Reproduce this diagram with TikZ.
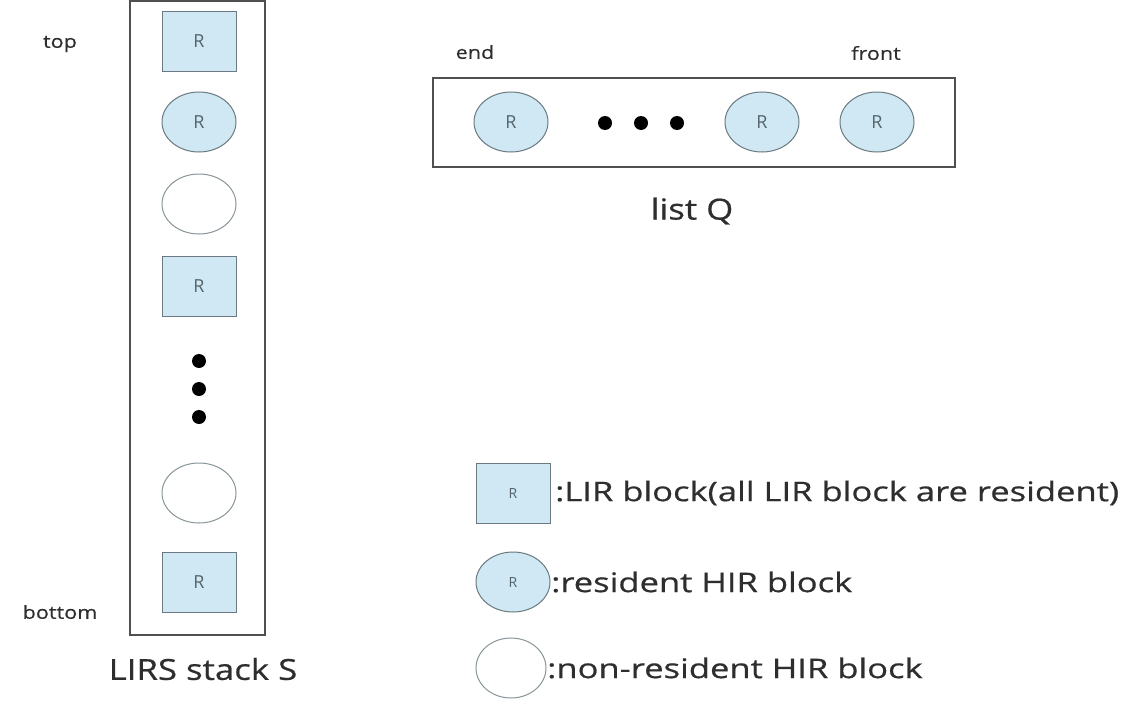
\documentclass[tikz,border=0pt]{standalone}
\usepackage{fontspec}
\setmainfont{Open Sans}
\newfontfamily\legendfont[FakeStretch=1.28,FakeBold=0.6]{Open Sans}
\newfontfamily\titlefont[FakeStretch=1.2,FakeBold=0.6]{Open Sans}
\newfontfamily\smallfont[FakeStretch=1.2,FakeBold=0.4]{Open Sans}
\usetikzlibrary{shapes.geometric}
\definecolor{lightblue}{HTML}{CFE8F3}
\definecolor{shapeborder}{HTML}{6A7A80}
\definecolor{boxborder}{HTML}{505050}
\definecolor{rtext}{HTML}{55656B}
\definecolor{labeltext}{HTML}{2E2E2E}
\tikzset{
  lir/.style={rectangle, draw=shapeborder, line width=1pt, fill=lightblue, minimum width=74pt, minimum height=60pt, inner sep=0pt, text=rtext, font=\fontsize{18}{18}\selectfont},
  hir/.style={ellipse, draw=shapeborder, line width=1pt, fill=lightblue, minimum width=74pt, minimum height=60pt, inner sep=0pt, text=rtext, font=\fontsize{18}{18}\selectfont},
  nonres/.style={ellipse, draw=shapeborder!80, line width=1pt, fill=white, minimum width=74pt, minimum height=60pt, inner sep=0pt},
  container/.style={rectangle, draw=boxborder, line width=1.4pt, inner sep=0pt},
  dotmark/.style={circle, fill=black, minimum size=14pt, inner sep=0pt},
  smalllabel/.style={text=labeltext, font=\smallfont\fontsize{18}{18}\selectfont, inner sep=0pt},
  biglabel/.style={text=labeltext, font=\titlefont\fontsize{29}{29}\selectfont, inner sep=0pt},
  legendtext/.style={text=labeltext, font=\legendfont\fontsize{27}{27}\selectfont, inner sep=0pt, anchor=west}
}
\begin{document}
\begin{tikzpicture}[x=1pt,y=-1pt]
\useasboundingbox (0,0) rectangle (1141,720);
\fill[white] (0,0) rectangle (1141,720);
% stack S
\node[container, minimum width=135pt, minimum height=634pt] (stack) at (197.5,318) {};
\node[lir] (s1) at (199,41) {R};
\node[hir] (s2) at (199,122) {R};
\node[nonres] (s3) at (199,204) {};
\node[lir] (s4) at (199,286) {R};
\node[dotmark] (sd1) at (199,361) {};
\node[dotmark] (sd2) at (199,389) {};
\node[dotmark] (sd3) at (199,417) {};
\node[nonres] (s5) at (199,493) {};
\node[lir] (s6) at (199,582) {R};
\node[smalllabel] (top) at (60,44) {top};
\node[smalllabel] (bottom) at (60,612) {bottom};
\node[biglabel] (stacklabel) at (203,669) {LIRS stack S};
% list Q
\node[container, minimum width=522pt, minimum height=89pt] (listq) at (694,122.5) {};
\node[hir, minimum width=74pt] (q1) at (511,122) {R};
\node[dotmark] (qd1) at (605,123) {};
\node[dotmark] (qd2) at (641,123) {};
\node[dotmark] (qd3) at (677,123) {};
\node[hir] (q2) at (762,122) {R};
\node[hir] (q3) at (877,122) {R};
\node[smalllabel] (endlabel) at (475,52) {end};
\node[smalllabel] (frontlabel) at (876,53) {front};
\node[biglabel] (listlabel) at (692,211) {list Q};
% legend
\node[lir, font=\fontsize{14}{14}\selectfont] (l1) at (513,493) {R};
\node[hir, font=\fontsize{14}{14}\selectfont] (l2) at (513,582) {R};
\node[nonres, minimum width=70pt] (l3) at (511,668) {};
\node[legendtext] (t1) at (555,493) {:LIR block(all LIR block are resident)};
\node[legendtext] (t2) at (551,582) {:resident HIR block};
\node[legendtext] (t3) at (547,668) {:non-resident HIR block};
\end{tikzpicture}
\end{document}
